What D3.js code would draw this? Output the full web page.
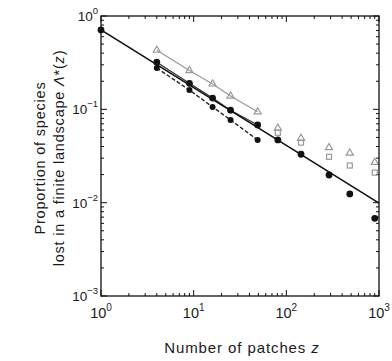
<!DOCTYPE html>
<html>
<head>
<meta charset="utf-8">
<script src="https://cdn.jsdelivr.net/npm/d3@7"></script>
<style>
  body { margin: 0; background: #fff; }
  text { font-family: "Liberation Sans", Arial, sans-serif; fill: #1a1a1a; }
</style>
</head>
<body>
<svg id="root"></svg>
<script>
// patch counts z (perfect squares)
const zAll = [1, 4, 9, 16, 25, 49, 81, 144, 289, 484, 900];
const zGray = [4, 9, 16, 25, 49, 81, 144, 289, 484, 900];
const zSquare = [81, 144, 289, 484, 900];
const zLower = [4, 9, 16, 25, 49];

const lossBlack = [0.71, 0.32, 0.19, 0.132, 0.098, 0.068, 0.047, 0.033, 0.0198, 0.0124, 0.0068];
const lossLower = [0.277, 0.161, 0.106, 0.077, 0.047];
const lossGray = [0.43, 0.26, 0.187, 0.139, 0.094, 0.063, 0.049, 0.039, 0.034, 0.027];
const lossSquare = [0.056, 0.044, 0.031, 0.025, 0.021];

// fitted power law, drawn between its end points
const fitZ = [1, 1000];
const fitLoss = [0.71, 0.0099];

const xTickExp = [0, 1, 2, 3];
const yTickExp = [0, -1, -2, -3];

const margin = {top: 16, right: 13, bottom: 65, left: 101};
const W = 392, H = 361;
const width = W - margin.left - margin.right;
const height = H - margin.top - margin.bottom;

const svg = d3.select('#root').attr('width', W).attr('height', H);
const chart = svg.append('g').attr('transform', `translate(${margin.left}, ${margin.top})`);

const xScale = d3.scaleLog().domain([1, 1000]).range([0, width]);
const yScale = d3.scaleLog().domain([0.001, 1]).range([height, 0]);

// minor + major tick values
const minor = (lo, hi) => {
    const v = [];
    for (let e = lo; e < hi; e++) for (let m = 2; m <= 9; m++) v.push(m * Math.pow(10, e));
    return v;
};
const xMajor = xTickExp.map(e => Math.pow(10, e));
const yMajor = yTickExp.map(e => Math.pow(10, e));
const xMinor = minor(0, 3);
const yMinor = minor(-3, 0);

const tickG = chart.append('g').attr('stroke', '#111').attr('stroke-width', 1);
const addTicks = (vals, len) => {
    vals.forEach(v => {
        const x = xScale(v);
        tickG.append('line').attr('x1', x).attr('x2', x).attr('y1', height).attr('y2', height - len);
        tickG.append('line').attr('x1', x).attr('x2', x).attr('y1', 0).attr('y2', len);
    });
};
const addYTicks = (vals, len) => {
    vals.forEach(v => {
        const y = yScale(v);
        tickG.append('line').attr('x1', 0).attr('x2', len).attr('y1', y).attr('y2', y);
        tickG.append('line').attr('x1', width).attr('x2', width - len).attr('y1', y).attr('y2', y);
    });
};
addTicks(xMajor, 6);
addTicks(xMinor, 3);
addYTicks(yMajor, 6);
addYTicks(yMinor, 3);

// tick labels with superscripts
xTickExp.forEach(e => {
    const t = chart.append('text')
        .attr('x', xScale(Math.pow(10, e)))
        .attr('y', height + 22)
        .attr('text-anchor', 'middle')
        .attr('font-size', 14.5);
    t.append('tspan').text('10');
    t.append('tspan').attr('dy', -7).attr('font-size', 10).text(e);
});
yTickExp.forEach(e => {
    const t = chart.append('text')
        .attr('x', -3)
        .attr('y', yScale(Math.pow(10, e)) + 5)
        .attr('text-anchor', 'end')
        .attr('font-size', 13.5);
    t.append('tspan').text('10');
    t.append('tspan').attr('dy', -7).attr('font-size', 9.5).text(e === 0 ? '0' : '\u2212' + (-e));
});

// axis titles
const xl = chart.append('text')
    .attr('x', width / 2 + 2)
    .attr('y', height + 57)
    .attr('text-anchor', 'middle')
    .attr('font-size', 15)
    .attr('letter-spacing', 0.9);
xl.append('tspan').text('Number of patches ');
xl.append('tspan').attr('font-style', 'italic').text('z');

const yl = chart.append('g').attr('transform', `translate(${-56}, ${height / 2 + 2}) rotate(-90)`);
yl.append('text').attr('y', 0).attr('text-anchor', 'middle').attr('font-size', 14.5)
    .attr('letter-spacing', 0.8).text('Proportion of species');
const yl2 = yl.append('text').attr('y', 19).attr('text-anchor', 'middle').attr('font-size', 14.5)
    .attr('letter-spacing', 0.8);
yl2.append('tspan').text('lost in a finite landscape ');
yl2.append('tspan').attr('font-style', 'italic').text('\u039B');
yl2.append('tspan').text('*(');
yl2.append('tspan').attr('font-style', 'italic').text('z');
yl2.append('tspan').text(')');

const line = d3.line().x(d => xScale(d[0])).y(d => yScale(d[1]));

// connecting lines for the short series
chart.append('path')
    .datum(zGray.slice(0, 5).map((z, i) => [z, lossGray[i]]))
    .attr('d', line).attr('fill', 'none').attr('stroke', '#999').attr('stroke-width', 1.2);
chart.append('path')
    .datum(zAll.slice(1, 6).map((z, i) => [z, lossBlack[i + 1]]))
    .attr('d', line).attr('fill', 'none').attr('stroke', '#333').attr('stroke-width', 1.2);
chart.append('path')
    .datum(zLower.map((z, i) => [z, lossLower[i]]))
    .attr('d', line).attr('fill', 'none').attr('stroke', '#222').attr('stroke-width', 1.4)
    .attr('stroke-dasharray', '4,2');

// fit line
chart.append('path')
    .datum(fitZ.map((z, i) => [z, fitLoss[i]]))
    .attr('d', line).attr('fill', 'none').attr('stroke', '#111').attr('stroke-width', 1.6);

// gray open markers
const tri = d3.symbol().type(d3.symbolTriangle).size(22);
chart.selectAll('.tri')
    .data(zGray.map((z, i) => [z, lossGray[i]]))
    .enter().append('path')
    .attr('class', 'tri')
    .attr('d', tri)
    .attr('transform', d => `translate(${xScale(d[0])}, ${yScale(d[1])})`)
    .attr('fill', 'none').attr('stroke', '#999').attr('stroke-width', 1.2);

chart.selectAll('.sq')
    .data(zSquare.map((z, i) => [z, lossSquare[i]]))
    .enter().append('rect')
    .attr('class', 'sq')
    .attr('x', d => xScale(d[0]) - 2.5)
    .attr('y', d => yScale(d[1]) - 2.5)
    .attr('width', 5).attr('height', 5)
    .attr('fill', 'none').attr('stroke', '#999').attr('stroke-width', 1.2);

// black filled markers
chart.selectAll('.lo')
    .data(zLower.map((z, i) => [z, lossLower[i]]))
    .enter().append('circle')
    .attr('class', 'lo')
    .attr('cx', d => xScale(d[0]))
    .attr('cy', d => yScale(d[1]))
    .attr('r', 3)
    .attr('fill', '#111');

chart.selectAll('.bk')
    .data(zAll.map((z, i) => [z, lossBlack[i]]))
    .enter().append('circle')
    .attr('class', 'bk')
    .attr('cx', d => xScale(d[0]))
    .attr('cy', d => yScale(d[1]))
    .attr('r', 3.4)
    .attr('fill', '#111');

// frame
chart.append('rect')
    .attr('width', width).attr('height', height)
    .attr('fill', 'none').attr('stroke', '#111').attr('stroke-width', 1.3);
</script>
</body>
</html>
